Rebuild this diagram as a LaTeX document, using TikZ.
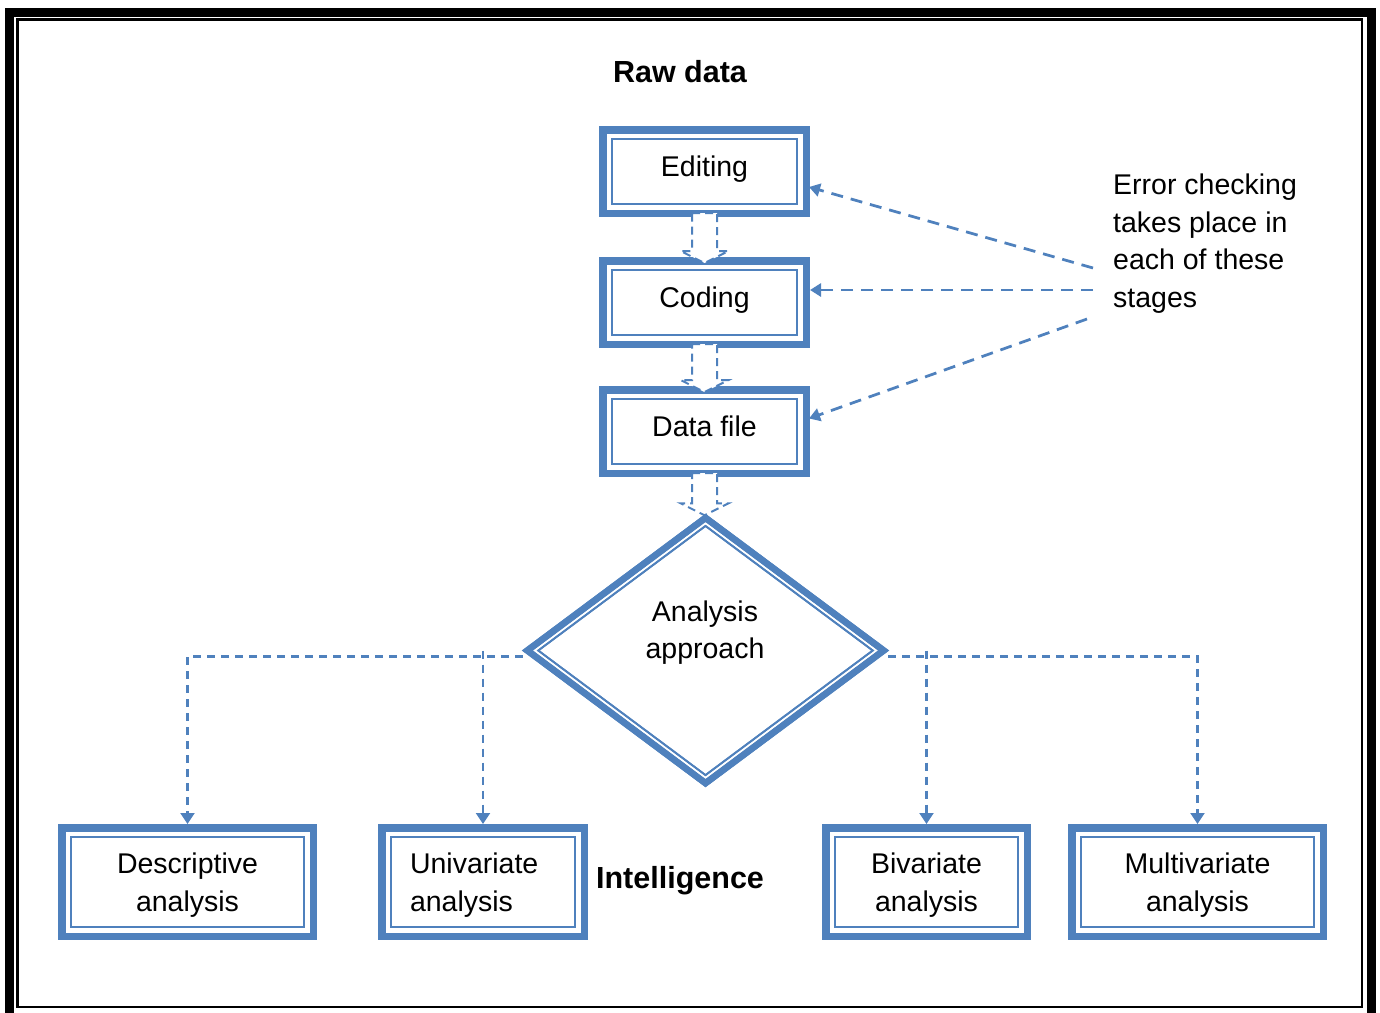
\documentclass[tikz,border=0pt]{standalone}
\usepackage{fontspec}
\setmainfont{Liberation Sans}
\usetikzlibrary{arrows.meta,shapes.geometric,calc}
\definecolor{wblue}{RGB}{79,129,189}
\newcommand\holarr[3]{%
  \draw[holl] let \p1=(#1.south), \p2=(#2.north) in
   (\x1-12.5pt,\y1+4pt) -- (\x1+12.5pt,\y1+4pt) -- (\x1+12.5pt,\y2-#3pt+12pt)
   -- (\x1+24pt,\y2-#3pt+12pt) -- (\x1,\y2-#3pt) -- (\x1-24pt,\y2-#3pt+12pt)
   -- (\x1-12.5pt,\y2-#3pt+12pt) -- cycle;}
\begin{document}
\begin{tikzpicture}[x=1pt,y=-1pt,
  every node/.style={font=\fontsize{28.5pt}{37.5pt}\selectfont},
  bold/.style={font=\fontsize{30.5pt}{37.5pt}\selectfont\bfseries},
  inrect/.style={path picture={\draw[wblue,line width=2pt]
     ([shift={(9pt,-9pt)}]path picture bounding box.north west) rectangle
     ([shift={(-9pt,9pt)}]path picture bounding box.south east);}},
  box/.style={draw=wblue, line width=7.5pt, fill=white, inner sep=0pt,
     minimum width=203.5pt, minimum height=83.5pt, text height=21pt,
     text depth=12pt, align=center, inrect},
  bbox/.style={draw=wblue, line width=7.5pt, fill=white, inner sep=0pt,
     minimum height=108.5pt, text depth=0pt, align=center, inrect},
  dia/.style={shape=diamond, draw=wblue, line width=6.5pt, fill=white,
     inner sep=0pt, minimum width=359pt, minimum height=268pt,
     path picture={\draw[wblue,line width=1.8pt,line join=miter]
       ([yshift=-8.1pt]path picture bounding box.north) --
       ([xshift=-10.9pt]path picture bounding box.east) --
       ([yshift=8.1pt]path picture bounding box.south) --
       ([xshift=10.9pt]path picture bounding box.west) -- cycle;}},
  holl/.style={draw=wblue, fill=white, line width=2pt, dash pattern=on 8pt off 5pt},
  rline/.style={draw=wblue, line width=2.75pt, dash pattern=on 12pt off 8pt,
     -{Triangle[length=11pt,width=13pt]}},
  bline/.style={draw=wblue, line width=2.2pt, dash pattern=on 8pt off 6pt,
     -{Triangle[length=11pt,width=14pt]}}
]
\useasboundingbox (0,0) rectangle (1380,1012);
\clip (0,0) rectangle (1380,1012);
% page border
\draw[line width=9pt] (9.5,12) rectangle (1371,1030);
\draw[line width=2.8pt] (17.5,19.5) rectangle (1362,1007);

\node[bold] (raw) at (680,72) {Raw data};

\node[dia] (d) at (705.5,650.5) {};

\node[box] (e) at (704.5,171.5) {Editing};
\node[box] (c) at (704.5,302.5) {Coding};
\node[box] (f) at (704.5,431.5) {Data file};

\node[bbox, minimum width=251.5pt] (desc) at (187.5,882) {Descriptive\\analysis};
\node[bbox, text width=146pt, inner xsep=28.25pt, align=left, text depth=37.5pt] (uni) at (483,882) {Univariate\\analysis};
\node[bbox, minimum width=201.5pt] (biv) at (926.5,882) {Bivariate\\analysis};
\node[bbox, minimum width=251.5pt] (mul) at (1197.5,882) {Multivariate\\analysis};

\node[bold, anchor=base] (intel) at (680,888) {Intelligence};

\node[align=center] (dt) at (705,632.5) {Analysis\\approach};

\draw[bline] ([yshift=-6pt]d.west) -| (desc.north);
\draw[bline] (uni.north |- d.west) -- (uni.north);
\draw[bline] ([yshift=-6pt]d.east) -| (mul.north);
\draw[bline] (biv.north |- d.east) -- (biv.north);

% redraw diamond outline over the connector ends
\node[dia, fill=none] at (d.center) {};

\holarr{e}{c}{6}
\holarr{c}{f}{6}
\holarr{f}{d}{2}

\node[align=left, anchor=north west, inner sep=0pt] (err) at (1113,174)
  {Error checking\\takes place in\\each of these\\stages};
\coordinate (s1) at (1093,268);
\coordinate (s2) at (1093,290);
\coordinate (s3) at (1087,319);
\draw[rline] (s1) -- ([yshift=-15.5pt,xshift=-1pt]e.east);
\draw[rline] (s2) -- (s2 -| c.east);
\draw[rline] (s3) -- ([yshift=13pt,xshift=-1pt]f.east);
\end{tikzpicture}
\end{document}
